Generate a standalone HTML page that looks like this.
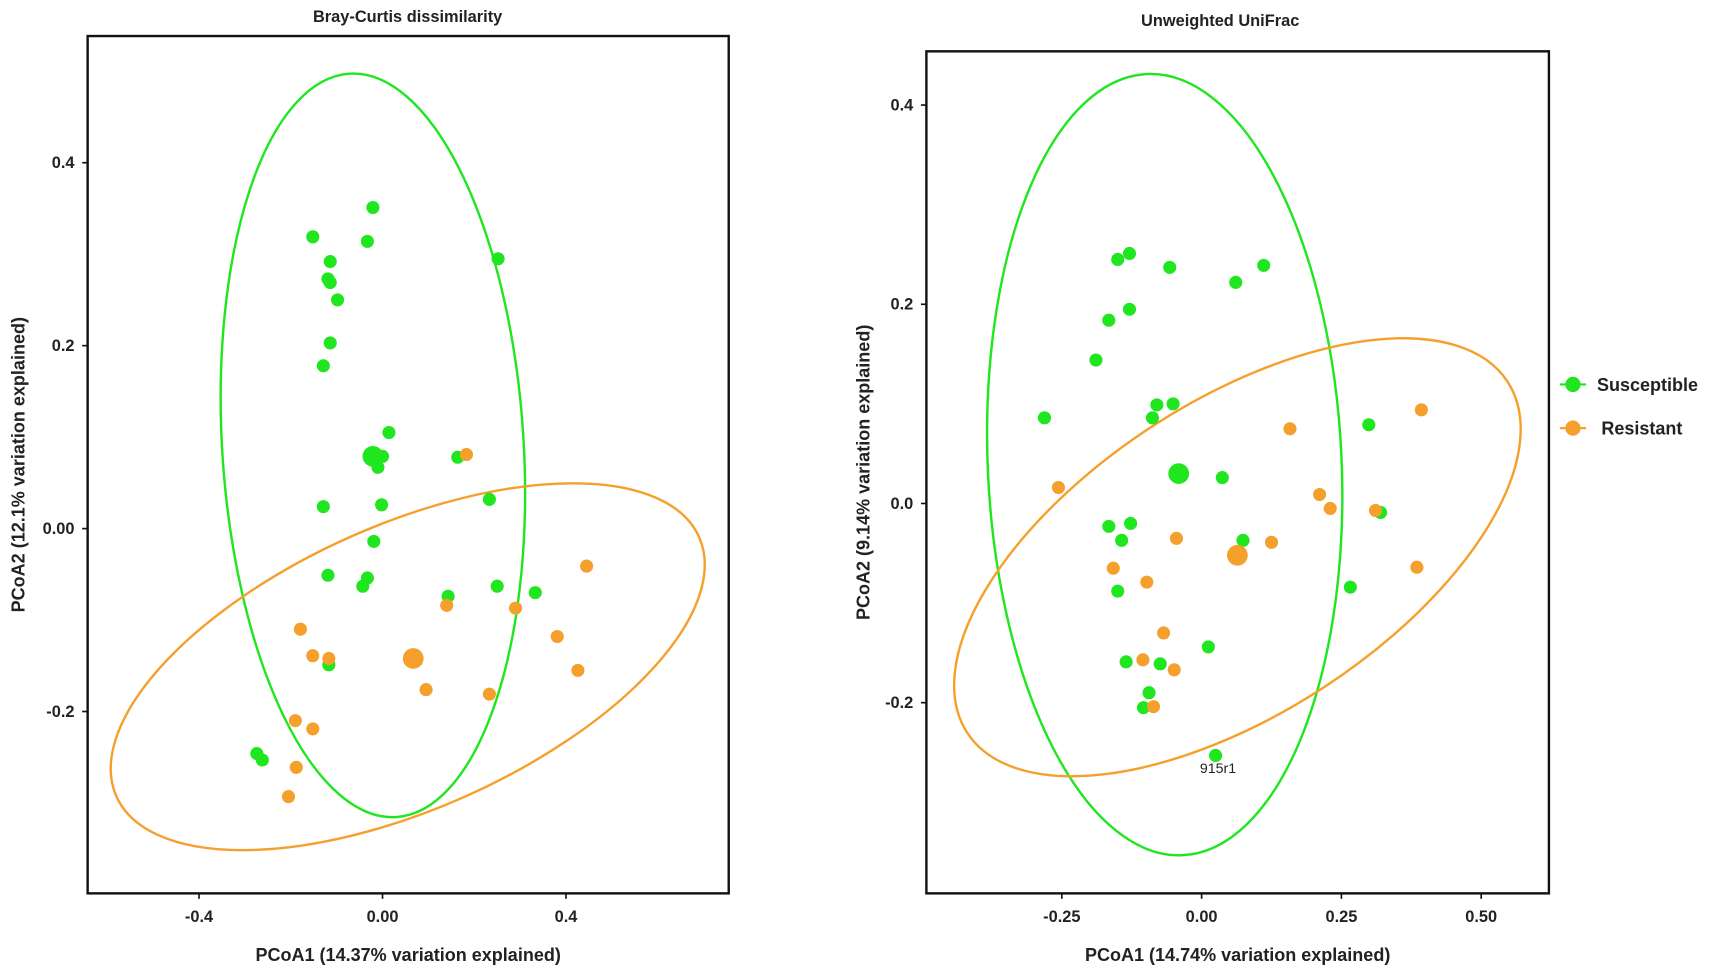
<!DOCTYPE html>
<html><head><meta charset="utf-8"><style>
body{margin:0;background:#fff}
svg{display:block;font-family:"Liberation Sans",sans-serif}
</style></head><body>
<svg id="c" width="1713" height="972" viewBox="0 0 1568 890" xmlns="http://www.w3.org/2000/svg"></svg>
<script>
// Left panel data (Bray-Curtis)
const bcSuscX=[-0.021,-0.152,-0.033,0.252,-0.114,-0.119,-0.114,-0.098,-0.114,-0.129,0.014,0,-0.010,0.164,-0.129,-0.002,0.233,-0.019,-0.119,-0.033,-0.043,0.250,0.333,0.143,-0.117,-0.274,-0.262];
const bcSuscY=[0.351,0.319,0.314,0.295,0.292,0.273,0.269,0.250,0.203,0.178,0.105,0.079,0.067,0.078,0.024,0.026,0.032,-0.014,-0.051,-0.054,-0.063,-0.063,-0.070,-0.074,-0.149,-0.246,-0.253];
const bcResX=[0.183,0.445,0.140,0.290,0.381,-0.179,-0.152,-0.117,0.426,0.095,0.233,-0.190,-0.152,-0.188,-0.205];
const bcResY=[0.081,-0.041,-0.084,-0.087,-0.118,-0.110,-0.139,-0.142,-0.155,-0.176,-0.181,-0.210,-0.219,-0.261,-0.293];
const bcCentroidS=[-0.021,0.079];
const bcCentroidR=[0.067,-0.142];
const bcXTicks=[-0.4,0,0.4];
const bcXTickLabels=["-0.4","0.00","0.4"];
const bcYTicks=[0.4,0.2,0,-0.2];
const bcYTickLabels=["0.4","0.2","0.00","-0.2"];
// Right panel data (Unweighted UniFrac)
const uuSuscX=[-0.129,-0.150,-0.057,0.111,0.061,-0.129,-0.166,-0.189,-0.281,-0.080,-0.051,-0.088,0.299,0.037,-0.166,-0.127,-0.143,0.074,0.320,-0.150,0.266,0.012,-0.135,-0.074,-0.094,-0.104,0.025];
const uuSuscY=[0.251,0.245,0.237,0.239,0.222,0.195,0.184,0.144,0.086,0.099,0.100,0.086,0.079,0.026,-0.023,-0.020,-0.037,-0.037,-0.009,-0.088,-0.084,-0.144,-0.159,-0.161,-0.190,-0.205,-0.253];
const uuResX=[0.393,0.158,-0.256,0.211,0.230,0.311,-0.045,0.125,-0.158,0.385,-0.098,-0.068,-0.105,-0.049,-0.086];
const uuResY=[0.094,0.075,0.016,0.009,-0.005,-0.007,-0.035,-0.039,-0.065,-0.064,-0.079,-0.130,-0.157,-0.167,-0.204];
const uuCentroidS=[-0.041,0.030];
const uuCentroidR=[0.064,-0.052];
const uuXTicks=[-0.25,0,0.25,0.5];
const uuXTickLabels=["-0.25","0.00","0.25","0.50"];
const uuYTicks=[0.4,0.2,0,-0.2];
const uuYTickLabels=["0.4","0.2","0.0","-0.2"];

const G="#1fe61f", O="#f5a02c";
const svg=document.getElementById('c');
const NS="http://www.w3.org/2000/svg";
function mk(tag,attrs,parent){const e=document.createElementNS(NS,tag);for(const k in attrs)e.setAttribute(k,attrs[k]);(parent||svg).appendChild(e);return e;}

function panel(p){
  const g=mk('g',{});
  
  
  const t=mk('text',{x:p.titleX,y:p.titleY,'text-anchor':'middle','font-size':15,'font-weight':'bold',fill:'#222'},g);
  t.textContent=p.title;
  
  
  p.ellipses.forEach(el=>{
    const cx=p.sx(el.c[0]),cy=p.sy(el.c[1]);
    const e=mk('ellipse',{cx:cx,cy:cy,rx:el.rx,ry:el.ry,transform:`rotate(${el.rot} ${cx} ${cy})`,fill:'none',stroke:el.col,'stroke-width':2.2},g);
    
    
  });
  function dots(xs,ys,col,n,r){
    xs.forEach((v,i)=>{const c=mk('circle',{cx:p.sx(v),cy:p.sy(ys[i]),r:r,fill:col},g);
      
      });
  }
  dots(p.sX,p.sY,G,'susceptible-point',6);
  dots(p.rX,p.rY,O,'resistant-point',6);
  const c1=mk('circle',{cx:p.sx(p.cS[0]),cy:p.sy(p.cS[1]),r:9.5,fill:G},g);
  
  
  const c2=mk('circle',{cx:p.sx(p.cR[0]),cy:p.sy(p.cR[1]),r:9.5,fill:O},g);
  
  
  const f=mk('rect',{x:p.f[0],y:p.f[1],width:p.f[2]-p.f[0],height:p.f[3]-p.f[1],fill:'none',stroke:'#111','stroke-width':2.2},g);
  
  
  p.xt.forEach((v,i)=>{const x=p.sx(v);
    mk('line',{x1:x,x2:x,y1:p.f[3],y2:p.f[3]+5,stroke:'#111','stroke-width':1.5},g);
    const l=mk('text',{x:x,y:p.f[3]+26,'text-anchor':'middle','font-size':15,'font-weight':'bold',fill:'#222'},g);
    l.textContent=p.xtl[i];
    
    });
  p.yt.forEach((v,i)=>{const y=p.sy(v);
    mk('line',{x1:p.f[0]-5,x2:p.f[0],y1:y,y2:y,stroke:'#111','stroke-width':1.5},g);
    const l=mk('text',{x:p.f[0]-12,y:y+5,'text-anchor':'end','font-size':15,'font-weight':'bold',fill:'#222'},g);
    l.textContent=p.ytl[i];
    
    });
  const xl=mk('text',{x:(p.f[0]+p.f[2])/2,y:880,'text-anchor':'middle','font-size':16.5,'font-weight':'bold',fill:'#222'},g);
  xl.textContent=p.xlab;
  
  
  const yx=p.ylx, yy=(p.f[1]+p.f[3])/2;
  const yl=mk('text',{x:yx,y:yy,'text-anchor':'middle','font-size':16.5,'font-weight':'bold',fill:'#222',transform:`rotate(-90 ${yx} ${yy})`},g);
  yl.textContent=p.ylab;
  
  
  return g;
}

panel({name:'bray-curtis-panel',title:'Bray-Curtis dissimilarity',titleX:373,titleY:20,
  sx:v=>350+v*420, sy:v=>484-v*837.5, f:[80,33,667,818],
  ellipses:[{c:[-0.021,0.091],rx:138,ry:341,rot:-3.6,col:G,n:'susceptible-ellipse'},
            {c:[0.055,-0.151],rx:292,ry:130,rot:-24,col:O,n:'resistant-ellipse'}],
  sX:bcSuscX,sY:bcSuscY,rX:bcResX,rY:bcResY,cS:bcCentroidS,cR:bcCentroidR,
  xt:bcXTicks,xtl:bcXTickLabels,yt:bcYTicks,ytl:bcYTickLabels,
  xlab:'PCoA1 (14.37% variation explained)',ylab:'PCoA2 (12.1% variation explained)',ylx:22});

panel({name:'unweighted-unifrac-panel',title:'Unweighted UniFrac',titleX:1117,titleY:24,
  sx:v=>1100+v*512, sy:v=>461-v*912, f:[848,47,1418,818],
  ellipses:[{c:[-0.066,0.039],rx:162,ry:358,rot:-2.6,col:G,n:'susceptible-ellipse'},
            {c:[0.064,-0.054],rx:295,ry:143,rot:-33,col:O,n:'resistant-ellipse'}],
  sX:uuSuscX,sY:uuSuscY,rX:uuResX,rY:uuResY,cS:uuCentroidS,cR:uuCentroidR,
  xt:uuXTicks,xtl:uuXTickLabels,yt:uuYTicks,ytl:uuYTickLabels,
  xlab:'PCoA1 (14.74% variation explained)',ylab:'PCoA2 (9.14% variation explained)',ylx:796});

const an=mk('text',{x:1115,y:708,'text-anchor':'middle','font-size':13,fill:'#222'});
an.textContent='915r1';



const leg=mk('g',{});


[['Susceptible',G,352,1462],['Resistant',O,392,1466]].forEach(d=>{
  const e=mk('g',{},leg);
  
  
  mk('line',{x1:1428,x2:1452,y1:d[2],y2:d[2],stroke:d[1],'stroke-width':2},e);
  mk('circle',{cx:1440,cy:d[2],r:7,fill:d[1]},e);
  const t=mk('text',{x:d[3],y:d[2]+6,'font-size':16.5,'font-weight':'bold',fill:'#222'},e);
  t.textContent=d[0];
});
</script>
</body></html>
